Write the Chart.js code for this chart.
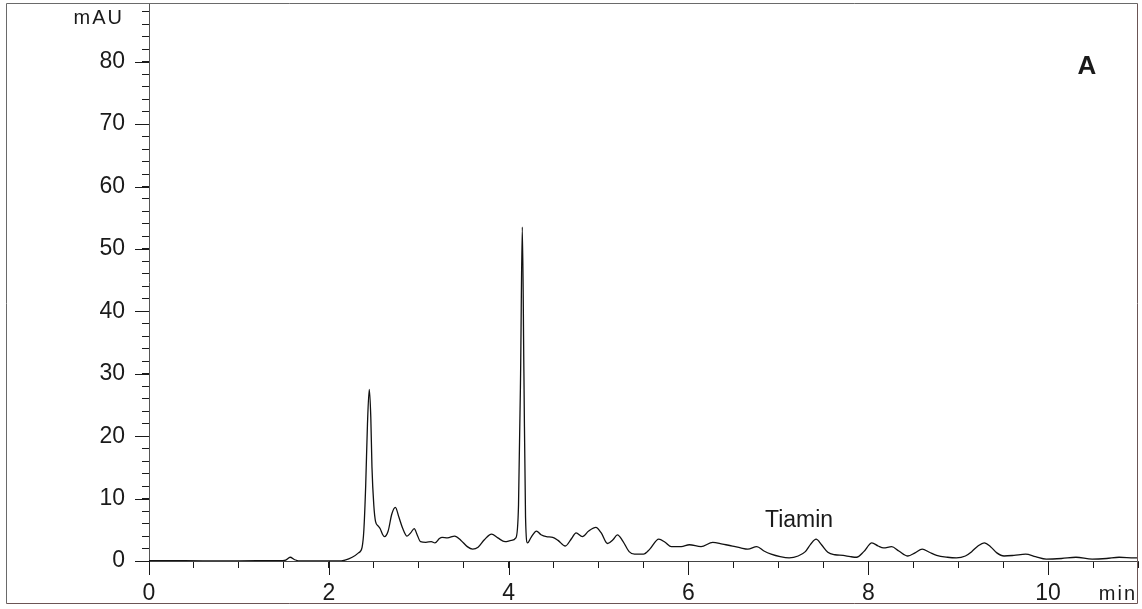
<!DOCTYPE html>
<html lang="en">
<head>
<meta charset="UTF-8">
<title>Chromatogram A</title>
<script src="https://cdn.jsdelivr.net/npm/chart.js"></script>
<style>
  html, body { margin: 0; padding: 0; background: #fff; }
  #wrap { width: 1142px; height: 609px; }
</style>
</head>
<body>
<div id="wrap"><canvas id="hplcChart" width="1142" height="609"></canvas></div>
<script>

// retention time (min) and detector signal (mAU)
var timeMin = [
  0.00, 0.40, 0.80, 1.20, 1.45, 1.52, 1.57, 1.62, 1.70, 1.90, 2.10, 2.18, 2.26, 2.33, 2.37,
  2.39, 2.41, 2.43, 2.45, 2.467, 2.48, 2.50, 2.52, 2.55, 2.57, 2.60, 2.62, 2.66, 2.70, 2.74,
  2.78, 2.82, 2.87, 2.91, 2.95, 2.98, 3.02, 3.08, 3.14, 3.18, 3.23, 3.26, 3.32, 3.40, 3.47,
  3.54, 3.60, 3.66, 3.73, 3.81, 3.88, 3.96, 4.03, 4.08, 4.11, 4.133, 4.152, 4.17, 4.188, 4.21,
  4.25, 4.31, 4.36, 4.42, 4.49, 4.55, 4.63, 4.70, 4.75, 4.82, 4.89, 4.97, 5.03, 5.10, 5.16,
  5.21, 5.27, 5.34, 5.40, 5.50, 5.57, 5.67, 5.74, 5.81, 5.92, 6.01, 6.14, 6.27, 6.38, 6.49,
  6.58, 6.66, 6.76, 6.84, 6.92, 7.02, 7.12, 7.22, 7.30, 7.36, 7.42, 7.48, 7.55, 7.63, 7.72,
  7.80, 7.87, 7.95, 8.04, 8.11, 8.17, 8.26, 8.34, 8.44, 8.52, 8.60, 8.68, 8.76, 8.88, 8.98,
  9.08, 9.15, 9.22, 9.29, 9.36, 9.43, 9.51, 9.62, 9.75, 9.86, 9.98, 10.15, 10.31, 10.49, 10.65,
  10.79, 10.96, 11.00
];
var signalMAU = [
  0.05, 0.05, 0.0, 0.05, 0.05, 0.15, 0.6, 0.2, 0.0, 0.0, 0.0, 0.15, 0.6, 1.3, 2.2,
  5.0, 12.0, 22.0, 27.5, 23.0, 15.0, 9.0, 6.3, 5.6, 5.2, 4.2, 3.9, 4.8, 7.5, 8.6,
  7.0, 5.3, 4.0, 4.5, 5.2, 4.3, 3.1, 3.0, 3.1, 2.9, 3.6, 3.8, 3.7, 4.0, 3.3,
  2.3, 1.9, 2.2, 3.4, 4.3, 3.7, 3.1, 3.3, 3.7, 9.0, 30.0, 53.5, 30.0, 7.0, 2.9,
  3.8, 4.8, 4.2, 3.9, 3.8, 3.3, 2.4, 3.6, 4.5, 3.9, 4.8, 5.4, 4.5, 2.8, 3.4,
  4.2, 3.2, 1.5, 1.1, 1.1, 1.9, 3.5, 3.0, 2.3, 2.3, 2.6, 2.3, 3.0, 2.7, 2.4,
  2.1, 1.9, 2.3, 1.6, 1.1, 0.7, 0.5, 0.8, 1.5, 2.7, 3.5, 2.6, 1.4, 1.0, 0.9,
  0.7, 0.6, 1.5, 2.9, 2.4, 2.1, 2.3, 1.6, 0.8, 1.3, 1.9, 1.4, 0.9, 0.6, 0.5,
  0.8, 1.5, 2.4, 2.9, 2.3, 1.3, 0.8, 0.9, 1.1, 0.7, 0.3, 0.4, 0.6, 0.3, 0.4,
  0.6, 0.5, 0.5
];

// axis labelling
var xLabelled = [0, 2, 4, 6, 8, 10];
var yLabelled = [0, 10, 20, 30, 40, 50, 60, 70, 80];
var xUnit = 'min';
var yUnit = 'mAU';
var panelLetter = 'A';
var peakNames = ['Tiamin'];
var peakNameTime = [7.23];
var peakNameLevel = [6.4];

var FONT = "'Liberation Sans', Arial, Helvetica, sans-serif";
var INK = '#1a1a1a';

var points = [];
for (var i = 0; i < timeMin.length; i++) {
  points.push({ x: timeMin[i], y: signalMAU[i] });
}

function inList(list, v) {
  for (var k = 0; k < list.length; k++) {
    if (Math.abs(list[k] - v) < 1e-6) return true;
  }
  return false;
}

// frame, long major ticks and text labels
var decorations = {
  id: 'decorations',
  afterDraw: function(chart) {
    var ctx = chart.ctx;
    var area = chart.chartArea;
    var xs = chart.scales.x;
    var ys = chart.scales.y;
    ctx.save();

    // outer frame
    ctx.lineWidth = 1;
    ctx.strokeStyle = '#6a6a6a';
    ctx.beginPath();
    ctx.moveTo(6.5, 603.5);
    ctx.lineTo(6.5, 3.5);
    ctx.lineTo(1137.5, 3.5);
    ctx.stroke();
    ctx.strokeStyle = '#6b5555';
    ctx.beginPath();
    ctx.moveTo(1137.5, 3.5);
    ctx.lineTo(1137.5, 603.5);
    ctx.lineTo(6.5, 603.5);
    ctx.stroke();

    // major ticks are longer
    ctx.strokeStyle = INK;
    ctx.beginPath();
    xLabelled.forEach(function(v) {
      var px = Math.round(xs.getPixelForValue(v)) + 0.5;
      ctx.moveTo(px, area.bottom);
      ctx.lineTo(px, area.bottom + 14);
    });
    yLabelled.forEach(function(v) {
      var py = Math.round(ys.getPixelForValue(v)) + 0.5;
      ctx.moveTo(area.left, py);
      ctx.lineTo(area.left - 14, py);
    });
    ctx.stroke();

    // units
    ctx.fillStyle = INK;
    ctx.font = '20px ' + FONT;
    ctx.letterSpacing = '2px';
    ctx.textAlign = 'right';
    ctx.textBaseline = 'middle';
    ctx.fillText(yUnit, area.left - 25, 18);
    ctx.fillText(xUnit, area.right - 1, area.bottom + 33);
    ctx.letterSpacing = '0px';

    // panel letter
    ctx.font = 'bold 26px ' + FONT;
    ctx.textAlign = 'center';
    ctx.fillText(panelLetter, area.right - 51, area.top + 64);

    // peak names
    ctx.font = '23px ' + FONT;
    for (var n = 0; n < peakNames.length; n++) {
      ctx.fillText(peakNames[n], xs.getPixelForValue(peakNameTime[n]), ys.getPixelForValue(peakNameLevel[n]));
    }
    ctx.restore();
  }
};

var config = {
  type: 'line',
  data: {
    datasets: [{
      label: 'signal',
      data: points,
      borderColor: '#111',
      borderWidth: 1.3,
      pointRadius: 0,
      fill: false,
      cubicInterpolationMode: 'monotone',
      parsing: false,
    }],
  },
  options: {
    responsive: false,
    animation: false,
    layout: { padding: { left: 6, right: 4, top: 3, bottom: 5 } },
    plugins: {
      legend: { display: false },
      tooltip: { enabled: false },
    },
    scales: {
      x: {
        type: 'linear',
        min: 0,
        max: 11,
        border: { display: true, color: '#444', width: 1 },
        grid: { drawOnChartArea: false, drawTicks: true, tickLength: 7, tickColor: INK },
        ticks: {
          stepSize: 0.5,
          autoSkip: false,
          maxRotation: 0,
          includeBounds: false,
          padding: 12,
          color: INK,
          font: { family: FONT, size: 23 },
          callback: function(v) { return inList(xLabelled, v) ? String(v) : ''; },
        },
        afterFit: function(scale) {
          scale.height = 43;
          scale.paddingLeft = 0;
          scale.paddingRight = 0;
        },
      },
      y: {
        type: 'linear',
        min: 0,
        max: 89.4,
        border: { display: true, color: '#555', width: 1 },
        grid: { drawOnChartArea: false, drawTicks: true, tickLength: 7, tickColor: INK },
        ticks: {
          stepSize: 2,
          autoSkip: false,
          includeBounds: false,
          padding: 17,
          color: INK,
          font: { family: FONT, size: 23 },
          callback: function(v) { return inList(yLabelled, v) ? String(v) : ''; },
        },
        afterFit: function(scale) {
          scale.width = 143;
          scale.paddingTop = 0;
          scale.paddingBottom = 0;
        },
      },
    },
  },
  plugins: [decorations],
};

window.onload = function() {
  var ctx = document.getElementById('hplcChart').getContext('2d');
  window.myChart = new Chart(ctx, config);
};
</script>
</body>
</html>
